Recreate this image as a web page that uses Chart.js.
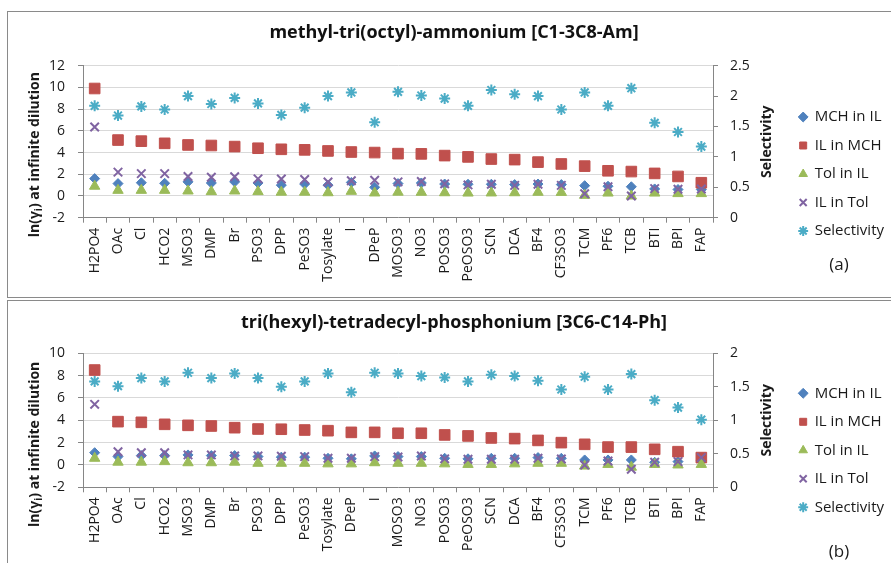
<!DOCTYPE html>
<html>
<head>
<meta charset="utf-8">
<title>Activity coefficients and selectivity</title>
<script src="https://cdn.jsdelivr.net/npm/chart.js@4.4.1/dist/chart.umd.min.js"></script>
<style>
html, body { margin: 0; padding: 0; background: #fff; width: 891px; height: 563px; overflow: hidden; }
.panel { position: absolute; left: 7px; width: 930px; border: 1px solid #8a8a8a; background: #fff; }
.wrap { position: absolute; left: 0; }
</style>
</head>
<body>
<div class="panel" style="top:11px;height:285px"></div>
<div class="panel" style="top:300px;height:300px"></div>
<div class="wrap" style="top:12px"><canvas id="chartA" width="908" height="285"></canvas></div>
<div class="wrap" style="top:301px"><canvas id="chartB" width="908" height="262"></canvas></div>
<script>
// anions, in the order each cation's panel sorts them
const anionsAm = ['H2PO4', 'OAc', 'Cl', 'HCO2', 'MSO3', 'DMP', 'Br', 'PSO3', 'DPP', 'PeSO3', 'Tosylate', 'I', 'DPeP',
  'MOSO3', 'NO3', 'POSO3', 'PeOSO3', 'SCN', 'DCA', 'BF4', 'CF3SO3', 'TCM', 'PF6', 'TCB', 'BTI', 'BPI', 'FAP'];
const anionsPh = ['H2PO4', 'OAc', 'Cl', 'HCO2', 'MSO3', 'DMP', 'Br', 'PSO3', 'DPP', 'PeSO3', 'Tosylate', 'DPeP', 'I',
  'MOSO3', 'NO3', 'POSO3', 'PeOSO3', 'SCN', 'DCA', 'BF4', 'CF3SO3', 'TCM', 'PF6', 'TCB', 'BTI', 'BPI', 'FAP'];

const seriesNames = ['MCH in IL', 'IL in MCH', 'Tol in IL', 'IL in Tol', 'Selectivity'];

// methyl-tri(octyl)-ammonium
const mchInIlAm = [1.6, 1.14, 1.22, 1.17, 1.3, 1.2, 1.3, 1.2, 1.0, 1.1, 1.0, 1.25, 0.8, 1.14, 1.2, 1.1, 1.08, 1.08, 1.05, 1.1, 1.05, 0.95, 0.9, 0.85, 0.65, 0.6, 0.6];
const ilInMchAm = [9.9, 5.15, 5.05, 4.85, 4.7, 4.65, 4.55, 4.4, 4.3, 4.25, 4.15, 4.05, 4.0, 3.9, 3.88, 3.72, 3.6, 3.4, 3.35, 3.12, 2.95, 2.75, 2.32, 2.25, 2.08, 1.8, 1.22];
const tolInIlAm = [0.9, 0.52, 0.52, 0.52, 0.46, 0.4, 0.46, 0.4, 0.35, 0.35, 0.3, 0.43, 0.28, 0.35, 0.34, 0.3, 0.27, 0.28, 0.3, 0.34, 0.33, 0.06, 0.27, 0.0, 0.27, 0.22, 0.22];
const ilInTolAm = [6.35, 2.2, 2.06, 2.06, 1.8, 1.72, 1.77, 1.58, 1.56, 1.52, 1.29, 1.4, 1.45, 1.3, 1.33, 1.12, 1.02, 1.08, 0.98, 1.08, 0.98, 0.2, 0.85, 0.0, 0.68, 0.62, 0.65];
const selectAm = [1.84, 1.68, 1.83, 1.78, 2.0, 1.87, 1.97, 1.88, 1.69, 1.81, 2.0, 2.06, 1.57, 2.07, 2.01, 1.96, 1.84, 2.1, 2.03, 2.0, 1.78, 2.06, 1.84, 2.13, 1.56, 1.41, 1.17];

// tri(hexyl)-tetradecyl-phosphonium
const mchInIlPh = [1.1, 0.75, 0.84, 0.84, 0.9, 0.84, 0.84, 0.75, 0.7, 0.7, 0.6, 0.55, 0.81, 0.75, 0.75, 0.6, 0.55, 0.6, 0.6, 0.66, 0.6, 0.45, 0.45, 0.45, 0.24, 0.3, 0.4];
const ilInMchPh = [8.5, 3.88, 3.82, 3.64, 3.55, 3.49, 3.34, 3.22, 3.2, 3.13, 3.07, 2.92, 2.92, 2.84, 2.84, 2.69, 2.6, 2.42, 2.36, 2.2, 2.0, 1.85, 1.6, 1.6, 1.4, 1.19, 0.66];
const tolInIlPh = [0.6, 0.25, 0.25, 0.3, 0.2, 0.2, 0.25, 0.15, 0.15, 0.15, 0.1, 0.1, 0.2, 0.15, 0.15, 0.1, 0.05, 0.05, 0.1, 0.15, 0.15, -0.1, 0.05, -0.2, 0.05, 0.0, 0.05];
const ilInTolPh = [5.43, 1.19, 1.1, 1.1, 0.9, 0.9, 0.81, 0.81, 0.78, 0.75, 0.6, 0.6, 0.75, 0.72, 0.8, 0.55, 0.51, 0.51, 0.51, 0.6, 0.54, 0.0, 0.36, -0.38, 0.24, 0.3, 0.66];
const selectPh = [1.58, 1.51, 1.63, 1.58, 1.71, 1.63, 1.70, 1.63, 1.50, 1.58, 1.70, 1.42, 1.71, 1.70, 1.66, 1.64, 1.58, 1.68, 1.66, 1.59, 1.46, 1.65, 1.46, 1.69, 1.30, 1.19, 1.01];

Chart.defaults.font.family = "'Open Sans', sans-serif";
Chart.defaults.color = '#1a1a1a';

const AXIS = '#868686';
const GRID = '#d9d9d9';
const PLOT_LEFT = 83;
const PLOT_RIGHT = 713;
const PAD_SIDE = 14;

// axis titles drawn by hand: the left one needs a subscript,
// the right one reads bottom-to-top like the left one
const edgeTitles = {
  id: 'edgeTitles',
  afterDraw(chart, args, o) {
    const ctx = chart.ctx;
    const area = chart.chartArea;
    const mid = (area.top + area.bottom) / 2;
    const big = 'bold 14px "Open Sans"';
    const small = 'bold 10px "Open Sans"';

    ctx.save();
    ctx.fillStyle = '#1a1a1a';
    ctx.textBaseline = 'middle';
    ctx.textAlign = 'left';
    ctx.font = big;
    const w1 = ctx.measureText('ln(γ').width;
    const w3 = ctx.measureText(') at infinite dilution').width;
    ctx.font = small;
    const w2 = ctx.measureText('i').width;
    ctx.translate(o.leftX, mid + o.leftShift);
    ctx.rotate(-Math.PI / 2);
    let x = -(w1 + w2 + w3) / 2;
    ctx.font = big;
    ctx.fillText('ln(γ', x, 0);
    x += w1;
    ctx.font = small;
    ctx.fillText('i', x, 4);
    x += w2;
    ctx.font = big;
    ctx.fillText(') at infinite dilution', x, 0);
    ctx.restore();

    ctx.save();
    ctx.fillStyle = '#1a1a1a';
    ctx.textBaseline = 'middle';
    ctx.textAlign = 'center';
    ctx.font = big;
    ctx.translate(o.rightX, mid);
    ctx.rotate(-Math.PI / 2);
    ctx.fillText('Selectivity', 0, 0);
    ctx.restore();

    ctx.save();
    ctx.fillStyle = '#1a1a1a';
    ctx.textBaseline = 'middle';
    ctx.textAlign = 'center';
    ctx.font = '17px "Open Sans"';
    ctx.fillText(o.tag, o.tagX, o.tagY);
    ctx.restore();
  }
};

function series(label, data, axis, style, radius, color, width, order) {
  return {
    label, data, yAxisID: axis, showLine: false,
    pointStyle: style, pointRadius: radius, pointHoverRadius: radius,
    backgroundColor: color, borderColor: color,
    borderWidth: width, pointBorderWidth: width, order
  };
}

// plain numbers on the ticks: 2, 1.5, 1 ... rather than 2.0, 1.0
const plainTick = v => String(v);

function makeChart(id, g) {
  return new Chart(document.getElementById(id), {
    type: 'line',
    data: {
      labels: g.labels,
      datasets: [
        series(seriesNames[0], g.mch, 'y', 'rectRot', 5, '#4f81bd', 1, 5),
        series(seriesNames[1], g.ilMch, 'y', 'rect', 7.5, '#c0504d', 1, 4),
        series(seriesNames[2], g.tol, 'y', 'triangle', 6, '#9bbb59', 1, 3),
        series(seriesNames[3], g.ilTol, 'y', 'crossRot', 6, '#8064a2', 2, 2),
        series(seriesNames[4], g.sel, 'y2', 'star', 5.5, '#4bacc6', 2, 1)
      ]
    },
    options: {
      responsive: false,
      animation: false,
      events: [],
      layout: { padding: { left: PAD_SIDE, right: PAD_SIDE, top: 0, bottom: 0 } },
      plugins: {
        title: {
          display: true, text: g.title, color: '#111',
          font: { size: 18, weight: 'bold' },
          padding: { top: g.titleTop, bottom: g.titleBottom }
        },
        legend: {
          position: 'right', align: 'start',
          title: { display: true, text: '', font: { size: 10, lineHeight: 1 }, padding: { top: g.legendTop, bottom: 0 } },
          labels: {
            usePointStyle: true, boxWidth: 8, boxHeight: 7, padding: 13.5,
            font: { size: 15 }, color: '#1a1a1a',
            sort: (a, b) => a.datasetIndex - b.datasetIndex
          }
        },
        tooltip: { enabled: false },
        edgeTitles: { leftX: 35, leftShift: g.leftShift, rightX: 767.5, tag: g.tag, tagX: 839, tagY: g.tagY }
      },
      scales: {
        x: {
          type: 'category', offset: true,
          grid: { offset: true, drawOnChartArea: false, color: AXIS, tickLength: 5 },
          border: { color: AXIS },
          ticks: { autoSkip: false, minRotation: 90, maxRotation: 90, padding: 5, font: { size: 14 } },
          afterFit: s => { s.height = g.xAxisH; }
        },
        y: {
          position: 'left', min: g.yMin, max: g.yMax,
          ticks: { stepSize: 2, padding: 13, font: { size: 14 }, callback: plainTick },
          grid: { color: GRID, tickColor: AXIS, tickLength: 5 },
          border: { color: AXIS },
          afterFit: s => { s.width = PLOT_LEFT - PAD_SIDE; }
        },
        y2: {
          position: 'right', min: 0, max: g.y2Max,
          ticks: { stepSize: 0.5, padding: 12, font: { size: 14 }, callback: plainTick },
          grid: { drawOnChartArea: false, color: AXIS, tickLength: 5 },
          border: { color: AXIS },
          afterFit: s => { s.width = s.chart.width - PAD_SIDE - s.chart.legend.width - PLOT_RIGHT; }
        }
      }
    },
    plugins: [edgeTitles]
  });
}

makeChart('chartA', {
  labels: anionsAm, mch: mchInIlAm, ilMch: ilInMchAm, tol: tolInIlAm, ilTol: ilInTolAm, sel: selectAm,
  title: 'methyl-tri(octyl)-ammonium [C1-3C8-Am]', tag: '(a)',
  yMin: -2, yMax: 12, y2Max: 2.5,
  titleTop: 10.2, titleBottom: 21.9, xAxisH: 79.3, legendTop: 74, leftShift: 13, tagY: 253
});

makeChart('chartB', {
  labels: anionsPh, mch: mchInIlPh, ilMch: ilInMchPh, tol: tolInIlPh, ilTol: ilInTolPh, sel: selectPh,
  title: 'tri(hexyl)-tetradecyl-phosphonium [3C6-C14-Ph]', tag: '(b)',
  yMin: -2, yMax: 10, y2Max: 2,
  titleTop: 10.9, titleBottom: 19.8, xAxisH: 75.7, legendTop: 61.3, leftShift: 24, tagY: 251.5
});
</script>
</body>
</html>
